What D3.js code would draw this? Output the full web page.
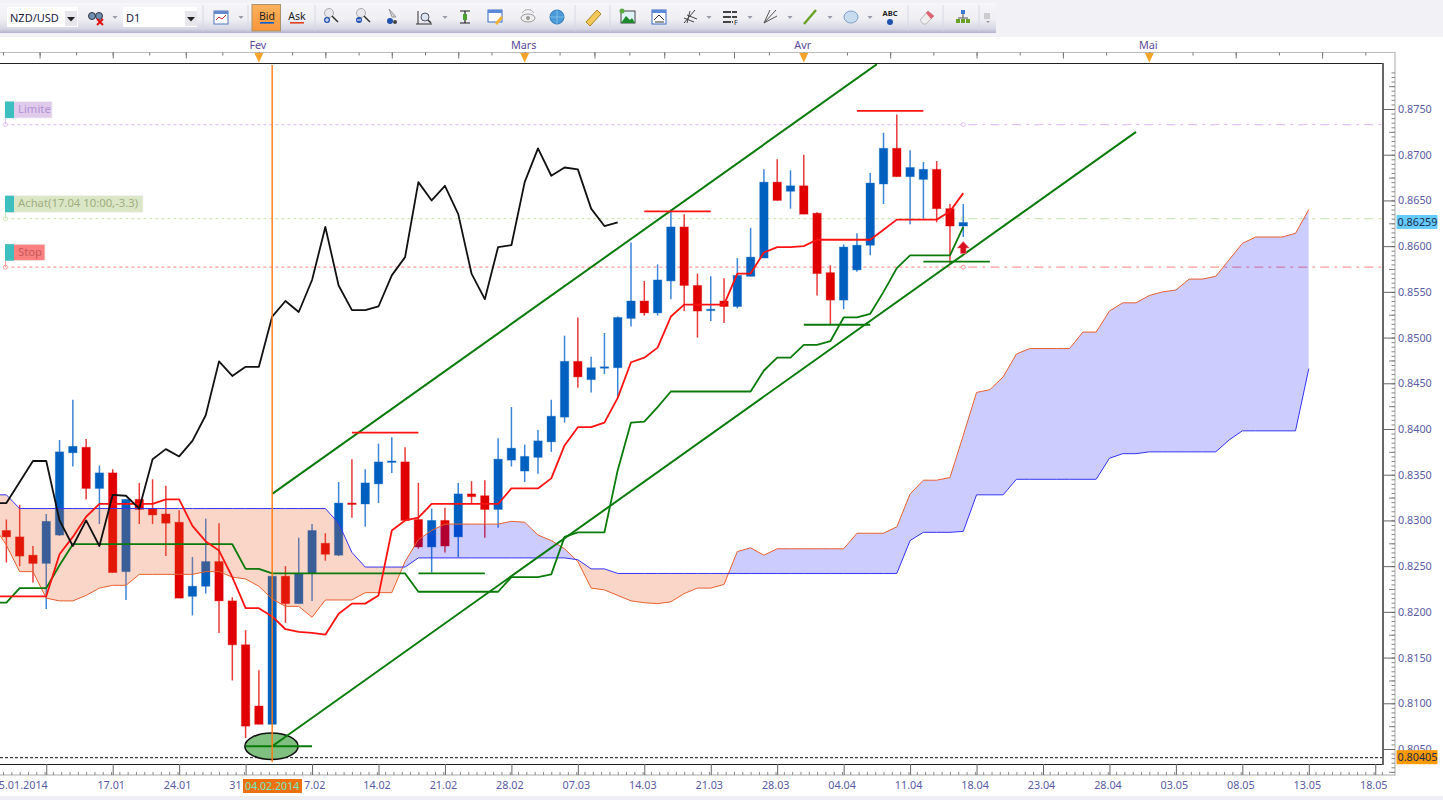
<!DOCTYPE html>
<html><head><meta charset="utf-8">
<script src="https://cdn.jsdelivr.net/npm/d3@7"></script>
<style>
html,body{margin:0;padding:0;background:#fff;overflow:hidden}
svg{display:block}
text{font-family:"Noto Sans",sans-serif}
.ax text{font-size:10.8px;fill:#5b5ba3;font-family:"Noto Sans",sans-serif}
.ax .domain{display:none}
</style></head><body>
<script>
// ---- candles: first bar is index -8 ----
const barStart=-8;
const barOpen=[.8289,.8282,.8262,.8253,.8284,.8374,.8380,.8335,.8352,.8244,.8323,.8313,.8307,.8298,.8217,.8228,.8255,.8212,.8164,.8097,.8077,.8239,.8209,.8242,.8275,.8262,.8319,.8318,.8340,.8364,.8364,.8301,.8271,.8300,.8282,.8329,.8327,.8312,.8366,.8354,.8369,.8386,.8413,.8474,.8454,.8467,.8467,.8521,.8540,.8527,.8562,.8621,.8557,.8530,.8540,.8534,.8567,.8587,.8670,.8660,.8666,.8636,.8571,.8541,.8574,.8601,.8668,.8707,.8676,.8673,.8684,.8641,.8622];
const barHigh=[.8301,.8317,.8272,.8307,.8388,.8432,.8389,.8360,.8356,.8323,.8341,.8345,.8338,.8311,.8260,.8302,.8297,.8216,.8180,.8136,.8239,.8250,.8281,.8296,.8286,.8342,.8367,.8356,.8384,.8391,.8380,.8341,.8313,.8314,.8341,.8343,.8344,.8390,.8424,.8383,.8399,.8432,.8502,.8522,.8479,.8505,.8523,.8604,.8562,.8580,.8640,.8635,.8570,.8567,.8565,.8587,.8620,.8684,.8695,.8683,.8700,.8637,.8579,.8602,.8614,.8680,.8724,.8744,.8705,.8692,.8693,.8646,.8646];
const barLow=[.8254,.8250,.8232,.8203,.8283,.8359,.8323,.8296,.8243,.8213,.8296,.8296,.8261,.8215,.8196,.8220,.8177,.8125,.8062,.8077,.8077,.8188,.8209,.8212,.8256,.8261,.8303,.8293,.8319,.8352,.8300,.8269,.8243,.8265,.8260,.8318,.8281,.8292,.8359,.8342,.8351,.8375,.8407,.8445,.8440,.8460,.8434,.8512,.8524,.8524,.8542,.8529,.8500,.8518,.8516,.8532,.8567,.8587,.8650,.8641,.8635,.8546,.8514,.8531,.8572,.8590,.8646,.8676,.8624,.8630,.8626,.8581,.8610];
const barClose=[.8282,.8261,.8253,.8299,.8375,.8381,.8335,.8352,.8243,.8323,.8312,.8306,.8297,.8215,.8228,.8255,.8212,.8164,.8075,.8077,.8239,.8209,.8242,.8289,.8263,.8319,.8318,.8341,.8364,.8365,.8300,.8271,.8300,.8272,.8329,.8326,.8312,.8367,.8379,.8370,.8387,.8414,.8474,.8457,.8467,.8468,.8522,.8540,.8527,.8563,.8621,.8557,.8529,.8531,.8534,.8568,.8588,.8670,.8650,.8666,.8635,.8570,.8541,.8599,.8601,.8669,.8707,.8676,.8686,.8684,.8641,.8622,.86259];
// ---- Ichimoku lines: first value is index -9 ----
const lineStart=-9;
const tenkan=[.8217,.8217,.8217,.8217,.8217,.8263,.8282,.8304,.8318,.8318,.8318,.8318,.8318,.8323,.8323,.8294,.8277,.8267,.8238,.8204,.8204,.8195,.8181,.8178,.8177,.8175,.8198,.8209,.8209,.8218,.8289,.8300,.8303,.8318,.8318,.8318,.8318,.8318,.8318,.8335,.8335,.8335,.8346,.8382,.8402,.8402,.8407,.8434,.8473,.8478,.8489,.8523,.8536,.8536,.8536,.8536,.8570,.8570,.8593,.8599,.8599,.8600,.8607,.8607,.8607,.8607,.8607,.8618,.8629,.8629,.8629,.8629,.8638,.8658];
const kijun=[.8210,.8210,.8226,.8226,.8226,.8251,.8274,.8274,.8274,.8274,.8274,.8274,.8274,.8274,.8274,.8274,.8274,.8274,.8274,.8247,.8247,.8242,.8242,.8242,.8242,.8242,.8242,.8242,.8242,.8242,.8242,.8242,.8222,.8222,.8222,.8222,.8222,.8222,.8222,.8238,.8238,.8238,.8241,.8282,.8287,.8287,.8287,.8355,.8407,.8408,.8424,.8441,.8441,.8441,.8441,.8441,.8441,.8441,.8464,.8478,.8478,.8492,.8492,.8496,.8522,.8522,.8526,.8550,.8576,.8590,.8590,.8590,.8590,.8621];
const chikou=[.8319,.8319,.8342,.8365,.8365,.8300,.8272,.8300,.8272,.8328,.8327,.8313,.8367,.8378,.8370,.8387,.8415,.8474,.8458,.8468,.8468,.8523,.8540,.8528,.8563,.8621,.8557,.8530,.8530,.8534,.8568,.8588,.8670,.8650,.8666,.8635,.8570,.8542,.8599,.8601,.8670,.8707,.8677,.8686,.8684,.8641,.8622,.8626];
const senkouA=[.8295,.8273,.8244,.8244,.8215,.8212,.8212,.8218,.8226,.8229,.8229,.8241,.8241,.8241,.8241,.8241,.8244,.8244,.8238,.8236,.8228,.8214,.8206,.8206,.8194,.8213,.8213,.8213,.8221,.8221,.8221,.8255,.8279,.8289,.8296,.8296,.8296,.8296,.8296,.8299,.8298,.8284,.8278,.8269,.8255,.8226,.8224,.8218,.8212,.8210,.8209,.8211,.8220,.8226,.8226,.8230,.8266,.8270,.8262,.8269,.8269,.8269,.8269,.8269,.8269,.8286,.8286,.8286,.8293,.8329,.8344,.8344,.8347,.8393,.8440,.8443,.8457,.8482,.8488,.8488,.8488,.8488,.8506,.8506,.8529,.8538,.8538,.8546,.8550,.8552,.8564,.8564,.8567,.8585,.8603,.8610,.8610,.8610,.8614,.8640];
const senkouB=[.8328,.8328,.8313,.8313,.8313,.8313,.8313,.8313,.8313,.8313,.8313,.8313,.8313,.8313,.8313,.8313,.8313,.8313,.8313,.8313,.8313,.8313,.8313,.8313,.8313,.8313,.8297,.8265,.8249,.8249,.8249,.8249,.8259,.8259,.8259,.8259,.8259,.8259,.8259,.8259,.8259,.8259,.8259,.8259,.8257,.8247,.8247,.8242,.8242,.8242,.8242,.8242,.8242,.8242,.8242,.8242,.8242,.8242,.8242,.8242,.8242,.8242,.8242,.8242,.8242,.8242,.8242,.8242,.8242,.8278,.8287,.8287,.8287,.8288,.8328,.8328,.8328,.8345,.8345,.8345,.8345,.8345,.8345,.8345,.8368,.8373,.8373,.8375,.8375,.8375,.8375,.8375,.8375,.8388,.8398,.8398,.8398,.8398,.8398,.8466];
// ---- drawings ----
const trendBars=[[12,57.5],[12,77]];
const trendPrices=[[.8329,.8799],[.8053,.8725]];
const markBars=[[10,15],[18,23],[23,28],[40,45],[52,57],[56,61],[61,66]];
const markPrices=[.8053,.8396,.8242,.8638,.8514,.8748,.8583];
const markKinds=["low","high","low","high","low","high","low"];
const orderNames=["Limite","Achat(17.04 10:00,-3.3)","Stop"];
const orderPrices=[.8733,.8630,.8577];
const lastBid=.86259, lowPrice=.80405;
// ---- axis labels ----
const priceTicks=[.805,.81,.815,.82,.825,.83,.835,.84,.845,.85,.855,.86,.865,.87,.875];
const dateBars=[-5,0,5,10,15,20,25,30,35,40,45,50,55,60,65,70,75,80,85,90,95];
const dateLabels=["5.01.2014","17.01","24.01","31","7.02","14.02","21.02","28.02","07.03","14.03","21.03","28.03","04.04","11.04","18.04","23.04","28.04","03.05","08.05","13.05","18.05"];
const monthNames=["Fev","Mars","Avr","Mai"];
const monthBars=[-11,11,31,52,78,104];

const x=d3.scaleLinear().domain([0,95]).range([112.7,1375.25]);
const y=d3.scaleLinear().domain([.805,.875]).range([749,109]);
const W=1443,H=800,plotRight=1383,plotTop=64,plotBottom=764;

const svg=d3.select("body").append("svg").attr("width",W).attr("height",H);
const defs=svg.append("defs");
const grad=defs.append("linearGradient").attr("id","tb").attr("x1",0).attr("x2",0).attr("y1",0).attr("y2",1);
[[0,"#f7f7fa"],[.55,"#eeeef3"],[.85,"#d8d8e6"],[1,"#b4b4cc"]].forEach(s=>grad.append("stop").attr("offset",s[0]).attr("stop-color",s[1]));
const bidg=defs.append("linearGradient").attr("id","bid").attr("x1",0).attr("x2",0).attr("y1",0).attr("y2",1);
[[0,"#fdb25e"],[1,"#f9963a"]].forEach(s=>bidg.append("stop").attr("offset",s[0]).attr("stop-color",s[1]));
defs.append("clipPath").attr("id","plot").append("rect").attr("x",0).attr("y",plotTop).attr("width",plotRight).attr("height",plotBottom-plotTop);

// page background
svg.append("rect").attr("width",W).attr("height",37).attr("fill","#f1f1f6");
svg.append("rect").attr("y",37).attr("width",W).attr("height",H-37).attr("fill","#fff");
svg.append("rect").attr("y",796).attr("width",W).attr("height",4).attr("fill","#eeeef4");

const plot=svg.append("g").attr("clip-path","url(#plot)");

// order lines (under the candles)
const orderColors=["#e2c4f5","#d2e6bd","#ff9b9b"];
orderPrices.forEach((p,k)=>{
  plot.append("line").attr("x1",x(-8)-1).attr("x2",x(64)).attr("y1",y(p)).attr("y2",y(p)).attr("stroke",orderColors[k]).attr("stroke-width",1.3).attr("stroke-dasharray","3 3");
  plot.append("line").attr("x1",x(64)+5).attr("x2",plotRight).attr("y1",y(p)).attr("y2",y(p)).attr("stroke",orderColors[k]).attr("stroke-width",1.3).attr("stroke-dasharray","9 5 3 5");
  [x(-8)-1,x(64)].forEach(cx=>plot.append("circle").attr("cx",cx).attr("cy",y(p)).attr("r",2).attr("fill","#fff").attr("stroke",orderColors[k]));
});
plot.append("line").attr("x1",0).attr("x2",plotRight).attr("y1",y(lowPrice)).attr("y2",y(lowPrice)).attr("stroke","#111").attr("stroke-width",1).attr("stroke-dasharray","3 2");

// candles
const bars=barOpen.map((o,k)=>({i:barStart+k,o,h:barHigh[k],l:barLow[k],c:barClose[k]}));
const candle=plot.append("g").selectAll("g").data(bars).join("g");
const isUp=d=>d.c>=d.o;
candle.append("line").attr("x1",d=>x(d.i)).attr("x2",d=>x(d.i)).attr("y1",d=>y(d.h)).attr("y2",d=>y(d.l))
  .attr("stroke",d=>isUp(d)?"#3b86d8":"#ea3a3a").attr("stroke-width",1.5);
candle.append("rect").attr("x",d=>x(d.i)-4.2).attr("width",8.4)
  .attr("y",d=>Math.min(y(d.o),y(d.c))).attr("height",d=>Math.max(1.4,Math.abs(y(d.o)-y(d.c))))
  .attr("fill",d=>isUp(d)?"#0060c0":"#e00000").attr("stroke",d=>isUp(d)?"#0060c0":"#e00000").attr("stroke-opacity",.35).attr("stroke-width",1);

// cloud
const cloud=senkouA.map((a,k)=>({i:lineStart+k,a,b:senkouB[k]}));
const clipArea=f=>d3.area().x(d=>x(d.i)).y0(plotTop-5).y1(d=>y(f(d)))(cloud);
const fillArea=f=>d3.area().x(d=>x(d.i)).y0(plotBottom+5).y1(d=>y(f(d)))(cloud);
defs.append("clipPath").attr("id","aboveB").append("path").attr("d",clipArea(d=>d.b));
defs.append("clipPath").attr("id","aboveA").append("path").attr("d",clipArea(d=>d.a));
plot.append("g").attr("clip-path","url(#aboveB)").append("path").attr("d",fillArea(d=>d.a)).attr("fill","#0000ff").attr("fill-opacity",.2);
plot.append("g").attr("clip-path","url(#aboveA)").append("path").attr("d",fillArea(d=>d.b)).attr("fill","#e65a1e").attr("fill-opacity",.25);

// indicator lines
const lineGen=start=>d3.line().x((d,k)=>x(start+k)).y(d=>y(d));
const lines=[[senkouA,"#e8602f",1],[senkouB,"#3434f5",1],[kijun,"#0a7a0a",1.8],[tenkan,"#ff1212",1.8],[chikou,"#111",1.8]];
lines.forEach(l=>plot.append("path").attr("d",lineGen(lineStart)(l[0])).attr("fill","none").attr("stroke",l[1]).attr("stroke-width",l[2]).attr("stroke-linejoin","round"));

// ellipse at the low
plot.append("ellipse").attr("cx",x(12)-.7).attr("cy",y(.8053)).attr("rx",x(14)-x(12)).attr("ry",y(.8053)-y(.80675))
  .attr("fill","#7fbf7f").attr("stroke","#111").attr("stroke-width",1.6);

// trend lines and swing marks
trendBars.forEach((b,k)=>plot.append("line").attr("x1",x(b[0])).attr("x2",x(b[1])).attr("y1",y(trendPrices[k][0])).attr("y2",y(trendPrices[k][1])).attr("stroke","#0a7a0a").attr("stroke-width",2));
markBars.forEach((b,k)=>plot.append("line").attr("x1",x(b[0])).attr("x2",x(b[1])).attr("y1",y(markPrices[k])).attr("y2",y(markPrices[k]))
  .attr("stroke",markKinds[k]==="high"?"#ff1212":"#0a7a0a").attr("stroke-width",1.8));

// arrow
plot.append("path").attr("transform",`translate(${x(64)},${y(.8598)})`).attr("d","M0,-6.5L6,0L2.8,0L2.8,5.5L-2.8,5.5L-2.8,0L-6,0Z").attr("fill","#d80f1e").attr("stroke","#f08080").attr("stroke-width",.6);

// cursor line
svg.append("line").attr("x1",x(12)).attr("x2",x(12)).attr("y1",65).attr("y2",762).attr("stroke","#ff7a14").attr("stroke-width",1.4);

// frame
svg.append("line").attr("x1",0).attr("x2",plotRight).attr("y1",63.5).attr("y2",63.5).attr("stroke","#222").attr("stroke-width",1.2);
svg.append("line").attr("x1",0).attr("x2",plotRight).attr("y1",764.5).attr("y2",764.5).attr("stroke","#222").attr("stroke-width",1.2);
svg.append("line").attr("x1",plotRight).attr("x2",plotRight).attr("y1",63).attr("y2",765).attr("stroke","#666").attr("stroke-width",2);
svg.append("line").attr("x1",1395).attr("x2",1395).attr("y1",52).attr("y2",775.5).attr("stroke","#aaa");
svg.append("line").attr("x1",0).attr("x2",1395).attr("y1",775).attr("y2",775).attr("stroke","#aaa");
svg.append("line").attr("x1",0).attr("x2",1395).attr("y1",52.5).attr("y2",52.5).attr("stroke","#bbb");

// price axis
const minorVals=d3.range(.8015,.8795,.0005).map(v=>+v.toFixed(4)).filter(v=>y(v)>52&&y(v)<775);
const minorAx=svg.append("g").attr("transform","translate(1395,0)").call(d3.axisLeft(y).tickValues(minorVals).tickSize(3.5).tickFormat(""));
minorAx.select(".domain").remove();minorAx.selectAll("line").attr("stroke","#888");
const midVals=d3.range(.8025,.8795,.005).map(v=>+v.toFixed(4)).filter(v=>y(v)>52&&y(v)<775);
const midAx=svg.append("g").attr("transform","translate(1395,0)").call(d3.axisLeft(y).tickValues(midVals).tickSize(6).tickFormat(""));
midAx.select(".domain").remove();midAx.selectAll("line").attr("stroke","#888");
const priceAx=svg.append("g").attr("class","ax").attr("transform",`translate(${plotRight},0)`)
  .call(d3.axisRight(y).tickValues(priceTicks).tickSize(12).tickPadding(3).tickFormat(d3.format(".4f")));
priceAx.selectAll("line").attr("stroke","#666");

// price tags
[[lastBid,"#66ccff"],[lowPrice,"#ff9900"]].forEach(t=>{
  const g=svg.append("g").attr("transform",`translate(1396.5,${y(t[0])})`);
  g.append("rect").attr("y",-7.5).attr("width",41).attr("height",14).attr("fill",t[1]);
  g.append("text").attr("x",1).attr("y",3.8).attr("font-size",10.8).attr("fill","#1a2a4a").text(d3.format(".5f")(t[0]));
});

// bottom time axis
const barStep=.625;
const subTicks=d3.range(-12,96,barStep).filter(v=>x(v)>-2&&x(v)<1395);
const subAx=svg.append("g").attr("transform","translate(0,775)").call(d3.axisTop(x).tickValues(subTicks).tickSize(3).tickFormat(""));
subAx.select(".domain").remove();subAx.selectAll("line").attr("stroke","#888");
const medAx=svg.append("g").attr("transform","translate(0,775)").call(d3.axisTop(x).tickValues(subTicks.filter(v=>Math.abs(v/1.25-Math.round(v/1.25))<1e-6)).tickSize(5).tickFormat(""));
medAx.select(".domain").remove();medAx.selectAll("line").attr("stroke","#888");
const majAx=svg.append("g").attr("transform","translate(0,775)").call(d3.axisTop(x).tickValues(dateBars).tickSize(11).tickFormat(""));
majAx.select(".domain").remove();majAx.selectAll("line").attr("stroke","#666");
const dateAx=svg.append("g").attr("class","ax").attr("transform","translate(-2,775)")
  .call(d3.axisBottom(x).tickValues(dateBars).tickSize(0).tickPadding(6).tickFormat((d,k)=>dateLabels[k]));
dateAx.selectAll("text").filter((d,k)=>k===0).style("text-anchor","end").attr("dx",3);
// the cursor date tag covers the neighbouring labels: keep only their visible parts beside it
dateAx.selectAll("text").filter((d,k)=>k===3).style("text-anchor","end").attr("dx",-2.5);
dateAx.selectAll("text").filter((d,k)=>k===4).style("text-anchor","start").attr("dx",-6.5);

// cursor date tag
svg.append("rect").attr("x",243).attr("y",779).attr("width",59).attr("height",14).attr("fill","#f07010");
svg.append("text").attr("x",x(12)).attr("y",790).attr("text-anchor","middle").attr("font-size",10.6).attr("fill","#6fe8c0").text("04.02.2014");

// top month ruler
const monthIdx=d3.range(monthBars.length);
const monthX=d3.scaleLinear().domain(monthIdx).range(monthBars.map(b=>x(b)));
const minorTop=d3.range(0,monthBars.length-1+1e-6,.125).filter(m=>monthX(m)>-2&&monthX(m)<1395);
const topMinor=svg.append("g").attr("transform","translate(0,52.5)").call(d3.axisBottom(monthX).tickValues(minorTop).tickSize(3).tickFormat(""));
topMinor.select(".domain").remove();topMinor.selectAll("line").attr("stroke","#777");
const topMajor=svg.append("g").attr("transform","translate(0,52.5)").call(d3.axisBottom(monthX).tickValues(minorTop.filter(m=>Math.abs(m*4-Math.round(m*4))<1e-6)).tickSize(6).tickFormat(""));
topMajor.select(".domain").remove();topMajor.selectAll("line").attr("stroke","#777");
monthNames.forEach((n,k)=>{
  const mx=monthX(k+1);
  svg.append("text").attr("x",mx-1).attr("y",49).attr("text-anchor","middle").attr("font-size",10.8).attr("fill","#5a4a9c").text(n);
  svg.append("path").attr("d",`M${mx-4.5},53L${mx+4.5},53L${mx},62.5Z`).attr("fill","#f7a42b");
});

// order tags
const tagW=[47,138,40],tagFill=["#e0cbec","#dbe6c6","#fb8080"],tagText=["#b593d6","#9fae7f","#c65a5a"];
orderNames.forEach((n,k)=>{
  const g=svg.append("g").attr("transform",`translate(5,${y(orderPrices[k])})`);
  g.append("line").attr("x1",.5).attr("x2",.5).attr("y1",-6).attr("y2",0).attr("stroke",orderColors[k]);
  g.append("rect").attr("y",-23).attr("width",tagW[k]).attr("height",16.5).attr("fill",tagFill[k]).attr("stroke","#f0f0f0").attr("stroke-width",.8);
  g.append("rect").attr("y",-23).attr("width",9).attr("height",16.5).attr("fill","#3dbfbf");
  g.append("text").attr("x",13).attr("y",-11.5).attr("font-size",11.3).attr("fill",tagText[k]).text(n);
});

// ---- toolbar ----
const tb=svg.append("g");
tb.append("rect").attr("y",3).attr("width",996).attr("height",30).attr("fill","url(#tb)");
[203,248,315,575,610,908,943,979].forEach(s=>tb.append("line").attr("x1",s).attr("x2",s).attr("y1",5).attr("y2",31).attr("stroke","#d8d8e4"));
const inp=(xx,w)=>tb.append("rect").attr("x",xx).attr("y",7).attr("width",w).attr("height",20).attr("fill","#fff");
inp(7,71);inp(123,74);
const drop=(xx)=>{tb.append("rect").attr("x",xx-6).attr("y",11).attr("width",12).attr("height",15).attr("fill","#e6e6ec");tb.append("path").attr("d",`M${xx-4},17L${xx+4},17L${xx},21.5Z`).attr("fill","#222");};
drop(71);drop(191);
tb.append("text").attr("x",10).attr("y",22).attr("font-size",11).attr("fill","#1a1a44").text("NZD/USD");
tb.append("text").attr("x",126).attr("y",22).attr("font-size",11).attr("fill","#1a1a44").text("D1");
const tri=xx=>tb.append("path").attr("d",`M${xx-2.5},16L${xx+2.5},16L${xx},19Z`).attr("fill","#9a9aa8");
[115,241,445,709,750,790,830,870].forEach(tri);
tb.append("rect").attr("x",252).attr("y",4.5).attr("width",28.5).attr("height",26.5).attr("fill","url(#bid)").attr("stroke","#a89468");
tb.append("text").attr("x",267).attr("y",20).attr("text-anchor","middle").attr("font-size",10.5).attr("fill","#222").text("Bid");
tb.append("rect").attr("x",260).attr("y",22).attr("width",14).attr("height",1.6).attr("fill","#0060d0");
tb.append("text").attr("x",297).attr("y",20).attr("text-anchor","middle").attr("font-size",10.5).attr("fill","#222").text("Ask");
tb.append("rect").attr("x",290).attr("y",22).attr("width",14).attr("height",1.6).attr("fill","#e04020");
const icon=(xx,s)=>tb.append("g").attr("transform",`translate(${xx},17)`).html(s);
icon(96,'<circle cx="-4" cy="-1" r="3.5" fill="#7090b0" stroke="#334"/><circle cx="3" cy="-1" r="3.5" fill="#7090b0" stroke="#334"/><path d="M1,2L7,8M7,2L1,8" stroke="#e01010" stroke-width="2"/>');
icon(221,'<rect x="-7" y="-6" width="14" height="13" fill="#fff" stroke="#5577bb"/><rect x="-7" y="-6" width="14" height="3" fill="#6688cc"/><path d="M-5,3L-2,0L1,2L5,-2" fill="none" stroke="#d03030"/>');
const mag=(xx,c,p)=>icon(xx,`<circle cx="-2" cy="-4" r="4.5" fill="#e8e8ee" stroke="#aaa"/><path d="M1,-1L7,5" stroke="#333" stroke-width="1.5"/><circle cx="-4" cy="3" r="3" fill="${c}"/><path d="${p}" stroke="#fff"/>`);
mag(331,"#2050b0","M-6,3L-2,3M-4,1L-4,5");mag(363,"#2050b0","M-6,3L-2,3");
icon(392,'<path d="M-3,-8L4,0L0,0Z" fill="#d0d0d8" stroke="#999"/><circle cx="-2" cy="4" r="3" fill="#2050b0"/><circle cx="3" cy="5" r="2" fill="#444"/>');
icon(424,'<path d="M-6,-6L-6,7M-8,7L8,7" stroke="#333"/><circle cx="1" cy="0" r="4" fill="#dde6ee" stroke="#556"/><path d="M4,3L7,6" stroke="#333" stroke-width="1.5"/>');
icon(465,'<path d="M-5,-6L5,-6M-5,6L5,6M0,-6L0,6" stroke="#222" stroke-width="1.2"/><rect x="-2" y="-3" width="4" height="6" fill="#4aa030"/>');
icon(495,'<rect x="-7" y="-7" width="14" height="12" fill="#fff" stroke="#3a6ac0"/><rect x="-7" y="-7" width="14" height="3" fill="#5a8ad8"/><path d="M0,6L6,-1L8,1L2,8Z" fill="#f0b030"/>');
icon(528,'<ellipse cx="0" cy="1" rx="7" ry="4" fill="#eee" stroke="#999"/><circle cx="0" cy="1" r="2" fill="#999"/><path d="M-6,-4A7,7 0 0 1 6,-4" fill="none" stroke="#aaa"/>');
icon(557,'<circle r="7" fill="#4a9ad8" stroke="#2a78b8"/><path d="M-7,0L7,0M0,-7L0,7" stroke="#8cc6ee" stroke-width=".8"/>');
icon(593,'<path d="M-7,5L4,-7L8,-3L-3,9Z" fill="#f2c85a" stroke="#a88426"/>');
icon(628,'<rect x="-7" y="-6" width="14" height="12" fill="#dff2f6" stroke="#444"/><path d="M-7,6L-2,-1L2,3L4,1L7,6Z" fill="#1e8a2e"/><circle cx="-6" cy="-6" r="2.5" fill="#5aaa40"/>');
icon(659,'<rect x="-7" y="-7" width="14" height="14" fill="#fff" stroke="#3a6ac0"/><rect x="-7" y="-7" width="14" height="3" fill="#5a8ad8"/><path d="M-5,3L0,-2L5,3M-4,5L5,5" fill="none" stroke="#333"/>');
icon(690,'<path d="M-6,6L5,-7M-3,-2L7,2M-6,1L4,5M0,-6L-3,6" stroke="#444" fill="none"/>');
icon(730,'<path d="M-7,-5L7,-5M-7,0L7,0M-7,5L3,5" stroke="#444" stroke-width="2.2" stroke-dasharray="8 1"/><text x="4" y="8" font-size="7" fill="#222">F</text>');
icon(770,'<path d="M-6,6L6,-7M-6,6L7,-1M-6,6L0,-7" stroke="#555" fill="none"/>');
icon(810,'<path d="M-6,7L6,-7" stroke="#6aa028" stroke-width="2.4"/>');
icon(851,'<ellipse rx="7" ry="6" fill="#c8dcf0" stroke="#7ea0c8"/>');
tb.append("text").attr("x",890).attr("y",16).attr("text-anchor","middle").attr("font-size",7.5).attr("font-weight","bold").attr("fill","#222").text("ABC");
icon(890,'<circle cx="0" cy="5" r="3" fill="#2050b0"/>');
icon(927,'<path d="M-7,3L1,-6L7,-1L-1,7L-4,7Z" fill="#eee" stroke="#bbb"/><path d="M-1,-4L1,-6L7,-1L4,2Z" fill="#e06070"/>');
icon(963,'<rect x="-2" y="-7" width="4" height="4" fill="#3a7ad0"/><path d="M0,-3L0,1M-5,1L5,1" stroke="#555"/><rect x="-7" y="2" width="4" height="4" fill="#6aa028"/><rect x="-2" y="2" width="4" height="4" fill="#6aa028"/><rect x="3" y="2" width="4" height="4" fill="#6aa028"/>');
icon(987,'<path d="M-3,-3L3,-3M-3,-1L3,-1M-3,1L3,1" stroke="#aaa"/><path d="M-1,4L3,4L1,6Z" fill="#999"/>');
</script>
</body></html>
